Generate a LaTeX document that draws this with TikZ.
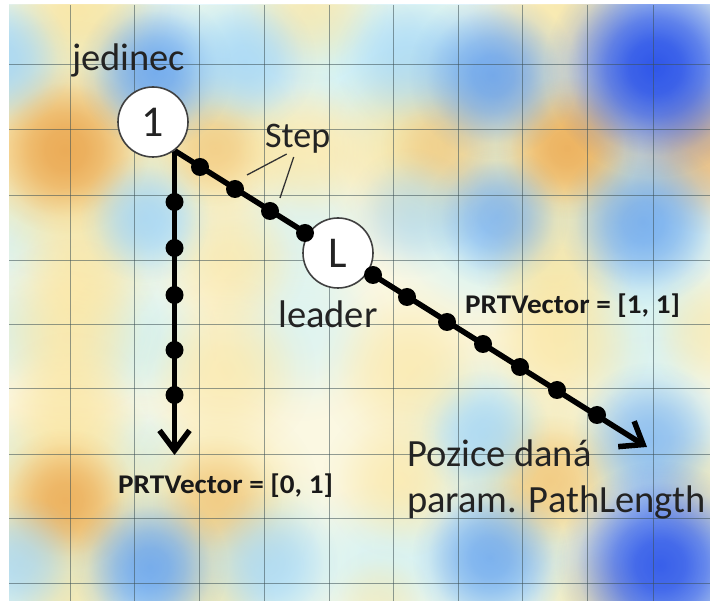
\documentclass[tikz,border=0pt]{standalone}
\usepackage{fontspec}
\usepackage{graphicx}
\setmainfont{Carlito}
\usetikzlibrary{arrows.meta,fadings,calc}

\definecolor{hmbase}{RGB}{251,248,226}
\definecolor{hmcyan}{RGB}{205,242,250}
\definecolor{hmlblue}{RGB}{160,210,245}
\definecolor{hmblue}{RGB}{80,145,235}
\definecolor{hmdblue}{RGB}{30,70,232}
\definecolor{hmyel}{RGB}{250,228,155}
\definecolor{hmor}{RGB}{232,158,70}
\definecolor{txt}{RGB}{35,35,35}

\pgfdeclareradialshading{blobshade}{\pgfpointorigin}{color(0bp)=(white); color(6bp)=(white!92!black); color(11bp)=(white!72!black); color(16bp)=(white!42!black); color(20bp)=(white!16!black); color(25bp)=(black); color(50bp)=(black)}
\pgfdeclarefading{blobfade}{\pgfuseshading{blobshade}}

\newcommand\hmb[5]{\fill[#4, fill opacity=#5, path fading=blobfade] (#1,#2) circle ({#3*1.3pt});}

\pgfdeclarelayer{heat}
\pgfdeclarelayer{bg}
\pgfsetlayers{heat,bg,main}

\tikzset{
  pnode/.style={circle, draw=black!75, line width=1.6pt, fill=white, minimum size=70pt, inner sep=0pt, font=\fontsize{44}{44}\selectfont, text=txt},
  dotn/.style={circle, fill=black, minimum size=18pt, inner sep=0pt},
  track/.style={line width=5.5pt, black},
  trackarrow/.style={track, -{Straight Barb[length=20pt, width=30pt]}},
  lbl/.style={font=\fontsize{38.5}{41}\selectfont, text=txt, inner sep=0pt},
  steplbl/.style={font=\fontsize{36}{38}\selectfont, text=txt, inner sep=0pt},
  vlbl/.style={font=\bfseries\fontsize{27}{30}\selectfont, text=black!90, inner sep=0pt},
  gridl/.style={line width=1pt, draw={rgb,255:red,60;green,80;blue,85}, draw opacity=0.55},
  pointer/.style={line width=1.3pt, draw=black!80},
}

\begin{document}
\begin{tikzpicture}[x=1pt,y=-1pt]
\useasboundingbox (0,0) rectangle (710,601);

\begin{pgfonlayer}{heat}
\fill[white] (0,0) rectangle (710,601);
\begin{scope}
\clip (9,5) rectangle (710,601);
\fill[hmbase] (9,5) rectangle (710,601);
% cyan washes
\hmb{10}{60}{70}{hmcyan}{0.9}
\hmb{155}{70}{90}{hmcyan}{0.9}
\hmb{250}{60}{80}{hmcyan}{0.8}
\hmb{420}{65}{100}{hmcyan}{0.9}
\hmb{655}{70}{110}{hmcyan}{0.9}
\hmb{350}{60}{60}{hmcyan}{0.7}
\hmb{145}{220}{70}{hmcyan}{0.8}
\hmb{490}{220}{90}{hmcyan}{0.9}
\hmb{645}{225}{90}{hmcyan}{0.9}
\hmb{10}{230}{60}{hmcyan}{0.7}
\hmb{300}{230}{70}{hmcyan}{0.6}
\hmb{140}{340}{60}{hmcyan}{0.8}
\hmb{300}{330}{70}{hmcyan}{0.6}
\hmb{10}{330}{50}{hmcyan}{0.7}
\hmb{480}{430}{70}{hmcyan}{0.8}
\hmb{640}{330}{70}{hmcyan}{0.7}
\hmb{650}{440}{80}{hmcyan}{0.8}
\hmb{140}{460}{50}{hmcyan}{0.7}
\hmb{10}{460}{40}{hmcyan}{0.6}
\hmb{150}{565}{90}{hmcyan}{0.9}
\hmb{30}{565}{70}{hmcyan}{0.8}
\hmb{270}{565}{80}{hmcyan}{0.8}
\hmb{490}{560}{90}{hmcyan}{0.9}
\hmb{660}{565}{100}{hmcyan}{0.9}
\hmb{380}{560}{60}{hmcyan}{0.7}
% yellows and oranges
\hmb{80}{10}{70}{hmyel}{0.8}
\hmb{310}{5}{60}{hmyel}{0.6}
\hmb{560}{5}{70}{hmyel}{0.7}
\hmb{65}{150}{100}{hmyel}{0.9}
\hmb{65}{150}{65}{hmor}{0.8}
\hmb{215}{148}{70}{hmyel}{0.8}
\hmb{215}{148}{45}{hmor}{0.3}
\hmb{305}{150}{60}{hmyel}{0.6}
\hmb{420}{148}{80}{hmyel}{0.8}
\hmb{445}{145}{50}{hmor}{0.3}
\hmb{567}{148}{90}{hmyel}{0.9}
\hmb{567}{148}{55}{hmor}{0.7}
\hmb{710}{150}{65}{hmor}{0.6}
\hmb{85}{260}{60}{hmyel}{0.6}
\hmb{230}{260}{60}{hmyel}{0.6}
\hmb{555}{265}{60}{hmyel}{0.7}
\hmb{70}{330}{70}{hmyel}{0.7}
\hmb{70}{410}{60}{hmyel}{0.6}
\hmb{225}{370}{70}{hmyel}{0.6}
\hmb{410}{370}{70}{hmyel}{0.6}
\hmb{560}{340}{70}{hmyel}{0.7}
\hmb{710}{330}{50}{hmyel}{0.5}
\hmb{65}{500}{90}{hmyel}{0.9}
\hmb{65}{500}{55}{hmor}{0.7}
\hmb{217}{500}{80}{hmyel}{0.8}
\hmb{217}{500}{50}{hmor}{0.35}
\hmb{400}{480}{60}{hmyel}{0.6}
\hmb{550}{480}{80}{hmyel}{0.8}
\hmb{550}{480}{50}{hmor}{0.35}
\hmb{705}{490}{50}{hmyel}{0.5}
\hmb{70}{600}{50}{hmyel}{0.6}
\hmb{210}{600}{50}{hmyel}{0.6}
\hmb{590}{600}{50}{hmyel}{0.6}
\hmb{380}{600}{40}{hmyel}{0.4}
% blues
\hmb{0}{60}{55}{hmlblue}{0.75}
\hmb{155}{72}{60}{hmblue}{0.7}
\hmb{245}{62}{55}{hmlblue}{0.7}
\hmb{407}{60}{55}{hmlblue}{0.6}
\hmb{493}{75}{65}{hmblue}{0.75}
\hmb{655}{67}{85}{hmdblue}{0.9}
\hmb{145}{218}{50}{hmlblue}{0.75}
\hmb{410}{213}{50}{hmlblue}{0.55}
\hmb{497}{217}{55}{hmblue}{0.55}
\hmb{643}{222}{65}{hmblue}{0.65}
\hmb{485}{435}{50}{hmlblue}{0.7}
\hmb{650}{440}{60}{hmblue}{0.5}
\hmb{20}{560}{50}{hmlblue}{0.65}
\hmb{150}{567}{60}{hmblue}{0.7}
\hmb{267}{563}{55}{hmlblue}{0.65}
\hmb{490}{557}{60}{hmblue}{0.65}
\hmb{660}{565}{80}{hmdblue}{0.85}
% grid
\foreach \gx in {70,134,199,264,329,393,458,522,587,653}
  \draw[gridl] (\gx,5) -- (\gx,601);
\foreach \gy in {65,130,196,261,325,389,455,519,583}
  \draw[gridl] (9,\gy) -- (710,\gy);
\end{scope}
\end{pgfonlayer}

% main nodes
\node[pnode] (n1) at (153,122) {1};
\node[pnode] (L) at (338,253) {L};
\coordinate (s) at (n1.-53);
\coordinate (v) at (173,455);
\coordinate (e) at (647,447);

\begin{pgfonlayer}{bg}
\draw[trackarrow] (s) -- (s |- v);
\draw[trackarrow] (s) -- (L.center) -- (e);
\end{pgfonlayer}

% step dots, vertical
\foreach \dy [count=\i] in {202,248,295,350,395}
  \node[dotn] (vd\i) at (s |- 0,\dy) {};
% step dots, diagonal
\foreach \dx/\dy [count=\i] in {200/167,235/189,270/211,305/233,373/275,407/297,447/322,483/344,520/367,557/390,597/415}
  \node[dotn] (dd\i) at (\dx,\dy) {};

% labels
\node[lbl, anchor=base west] (jed) at (72,71) {jedinec};
\node[lbl, anchor=base west] (lead) at (278,328) {leader};
\node[steplbl, anchor=base west] (step) at (265,148) {Step};
\node[lbl, anchor=base west] (poz1) at (407,467) {Pozice daná};
\node[lbl, anchor=base west] (poz2) at (407,513) {param. PathLength};
\node[vlbl, anchor=base west] (v01) at (118,494) {\scalebox{1.08}[1]{PRTVector = [0, 1]}};
\node[vlbl, anchor=base west] (v11) at (465,314) {\scalebox{1.08}[1]{PRTVector = [1, 1]}};

\coordinate (p1) at (247,175);
\coordinate (p2) at (280,198);
\draw[pointer] (step.south) ++(-11,0) -- (p1);
\draw[pointer] (step.south) ++(-4,3) -- (p2);
\end{tikzpicture}
\end{document}
